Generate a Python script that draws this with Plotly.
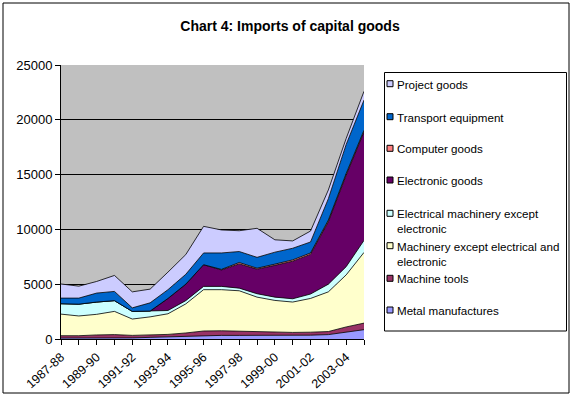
import plotly.graph_objects as go

# ---- data (US$ million) ----
categories = ["1987-88", "1988-89", "1989-90", "1990-91", "1991-92", "1992-93",
              "1993-94", "1994-95", "1995-96", "1996-97", "1997-98", "1998-99",
              "1999-00", "2000-01", "2001-02", "2002-03", "2003-04", "2004-05"]
tick_labels = ["1987-88", "", "1989-90", "", "1991-92", "", "1993-94", "",
               "1995-96", "", "1997-98", "", "1999-00", "", "2001-02", "",
               "2003-04", ""]

metal_manufactures = [80, 80, 100, 100, 100, 150, 200, 250, 300, 330, 330, 330, 330, 330, 350, 400, 600, 850]
machine_tools = [220, 220, 270, 300, 230, 200, 220, 300, 430, 420, 370, 330, 290, 270, 270, 280, 500, 600]
machinery = [1970, 1800, 1880, 2120, 1490, 1670, 1880, 2650, 3770, 3750, 3700, 3160, 2900, 2770, 3080, 3620, 4750, 6450]
electrical_machinery = [950, 1080, 1120, 980, 700, 530, 300, 300, 300, 300, 240, 310, 300, 300, 400, 700, 750, 1100]
electronic_goods = [0, 0, 0, 0, 0, 0, 1100, 1500, 1980, 1500, 2210, 2240, 2900, 3430, 3620, 5700, 8350, 9900]
computer_goods = [0, 0, 0, 0, 0, 0, 0, 0, 0, 50, 130, 90, 110, 120, 130, 150, 150, 150]
transport_equipment = [510, 550, 820, 840, 320, 750, 800, 900, 1070, 1500, 1000, 990, 1090, 1060, 1000, 1950, 2650, 2750]
project_goods = [1290, 1090, 1060, 1460, 1460, 1250, 1600, 1800, 2430, 2100, 1900, 2650, 1130, 670, 1000, 800, 550, 800]

series_names = ["Metal manufactures", "Machine tools",
                "Machinery except electrical and<br>electronic",
                "Electrical machinery except<br>electronic",
                "Electronic goods", "Computer goods",
                "Transport equipment", "Project goods"]
series_values = [metal_manufactures, machine_tools, machinery, electrical_machinery,
                 electronic_goods, computer_goods, transport_equipment, project_goods]
series_colors = ["#9999FF", "#993366", "#FFFFCC", "#CCFFFF",
                 "#660066", "#FF8080", "#0066CC", "#CCCCFF"]

FONT = "Liberation Sans, Arial, sans-serif"
W, H = 572, 398
ML, MR, MT, MB = 61, 208, 65, 59
PW, PH = W - ML - MR, H - MT - MB


def px(x):
    return (x - ML) / PW


def py(y):
    return (H - MB - y) / PH


fig = go.Figure()
for name, vals, col in zip(series_names, series_values, series_colors):
    fig.add_trace(go.Scatter(
        x=categories, y=vals, name=name.replace("<br>", " "),
        mode="lines", stackgroup="one", fillcolor=col,
        line=dict(color="black", width=0.8), showlegend=False,
        hoverinfo="x+y+name"))

shapes = []
annotations = []

# outer chart border
shapes.append(dict(type="rect", xref="paper", yref="paper",
                   x0=px(3), x1=px(569), y0=py(393), y1=py(3),
                   line=dict(color="black", width=1), fillcolor="rgba(0,0,0,0)",
                   layer="above"))
# legend box
shapes.append(dict(type="rect", xref="paper", yref="paper",
                   x0=px(384.5), x1=px(566.5), y0=py(331), y1=py(72.5),
                   line=dict(color="black", width=1), fillcolor="white",
                   layer="above"))

legend_rows = [83.7, 116.7, 148.3, 180.0, 213.3, 245.7, 278.3, 310.0]
order = list(range(len(series_names)))[::-1]  # top of legend = top of stack
for row_y, idx in zip(legend_rows, order):
    shapes.append(dict(type="rect", xref="paper", yref="paper",
                       x0=px(387), x1=px(393), y0=py(row_y + 3), y1=py(row_y - 3),
                       line=dict(color="black", width=1),
                       fillcolor=series_colors[idx], layer="above"))
    annotations.append(dict(xref="paper", yref="paper", x=px(394.5), y=py(row_y - 8),
                            xanchor="left", yanchor="top", align="left",
                            text=series_names[idx], showarrow=False,
                            font=dict(family=FONT, size=11.6, color="black")))

fig.update_layout(
    width=W, height=H,
    margin=dict(l=ML, r=MR, t=MT, b=MB, pad=0, autoexpand=False),
    paper_bgcolor="white", plot_bgcolor="#C0C0C0",
    title=dict(text="<b>Chart 4: Imports of capital goods</b>",
               x=290 / W, xanchor="center", xref="container",
               y=1 - 26 / H, yanchor="middle", yref="container",
               font=dict(family=FONT, size=14, color="black")),
    font=dict(family=FONT, size=12, color="black"),
    shapes=shapes, annotations=annotations,
    showlegend=False,
)
fig.update_xaxes(type="category", range=[0, len(categories) - 1],
                 tickmode="array", tickvals=categories, ticktext=tick_labels,
                 tickangle=-42, ticks="outside", ticklen=5, tickcolor="black",
                 showline=True, linecolor="black", linewidth=1,
                 showgrid=False, zeroline=False, automargin=False,
                 tickfont=dict(family=FONT, size=12.5, color="black"))
fig.update_yaxes(range=[0, 25000], dtick=5000, tick0=0, tickformat="d",
                 ticks="outside", ticklen=5, tickcolor="black",
                 showline=True, linecolor="black", linewidth=1,
                 showgrid=True, gridcolor="black", gridwidth=1,
                 zeroline=False, automargin=False,
                 tickfont=dict(family=FONT, size=13, color="black"))

fig.write_html("out.html", config={"displayModeBar": False},
               post_script="document.body.style.margin='0px';document.body.style.overflow='hidden';")
